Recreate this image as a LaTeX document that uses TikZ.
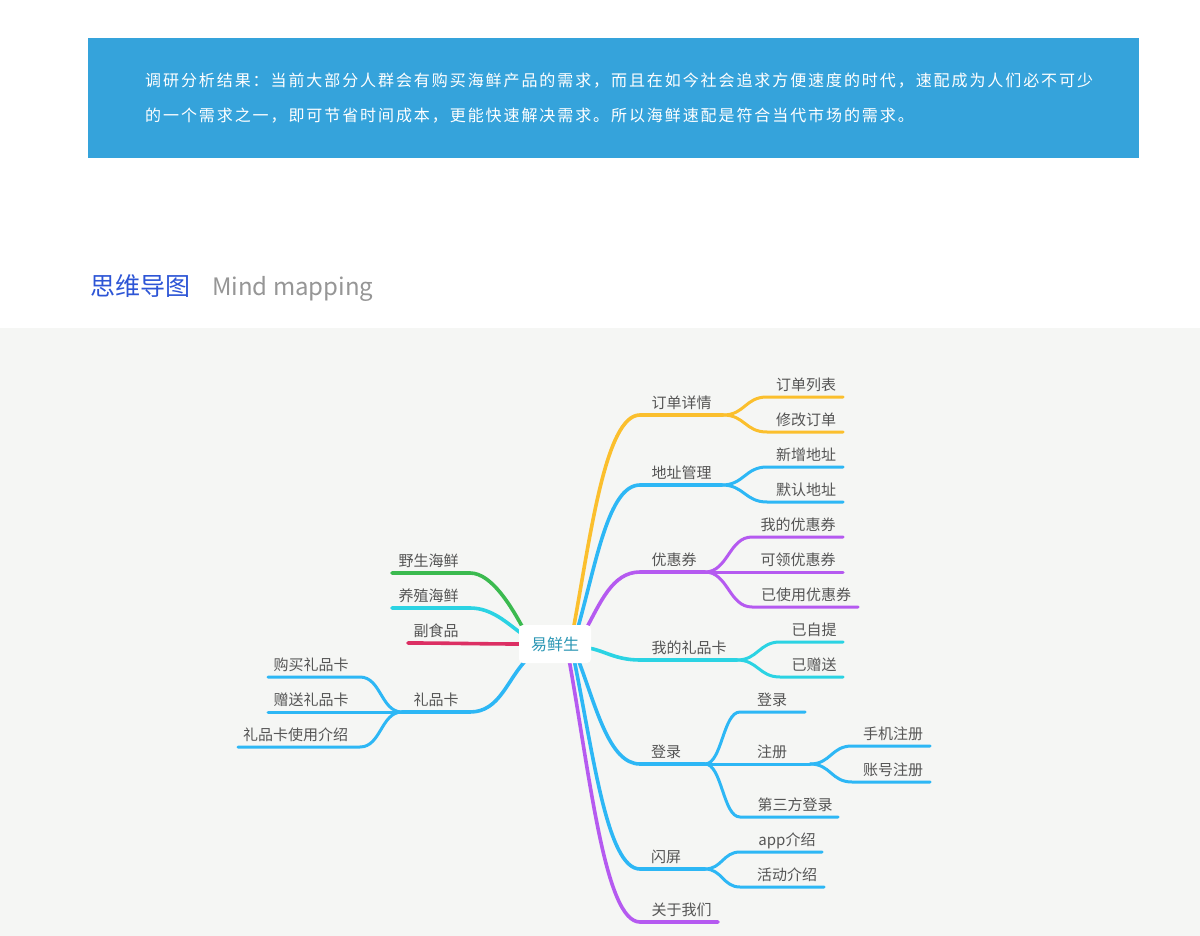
\documentclass[tikz,border=0pt]{standalone}
\usepackage{fontspec}
\setmainfont{Noto Sans CJK SC}
\newfontfamily\bannerfont[LetterSpace=12]{Noto Sans CJK SC}
\usetikzlibrary{calc}
\definecolor{bannerblue}{RGB}{53,163,219}
\definecolor{mapbg}{RGB}{245,246,244}
\definecolor{titleblue}{RGB}{45,85,214}
\definecolor{titlegray}{RGB}{150,150,150}
\definecolor{labelgray}{RGB}{85,85,85}
\definecolor{centerteal}{RGB}{42,150,180}
\definecolor{cyellow}{RGB}{251,191,45}
\definecolor{cblue}{RGB}{45,183,245}
\definecolor{cpurple}{RGB}{181,90,240}
\definecolor{ccyan}{RGB}{43,211,227}
\definecolor{cgreen}{RGB}{59,186,79}
\definecolor{cred}{RGB}{220,47,99}
\pgfdeclarelayer{back}
\pgfdeclarelayer{bg}
\pgfsetlayers{back,bg,main}
\begin{document}
\begin{tikzpicture}[x=1pt,y=-1pt,
  lbl/.style={anchor=base, inner sep=0pt, font=\fontsize{15}{15}\selectfont, text=labelgray},
  mainbr/.style={line width=3.6pt, line cap=round},
  subbr/.style={line width=3pt, line cap=round},
  bannertext/.style={anchor=west, inner sep=0pt, text=white, font=\bannerfont\fontsize{16}{16}\selectfont}]
\useasboundingbox (0,0) rectangle (1200,936);
\begin{pgfonlayer}{back}
\fill[white] (0,0) rectangle (1200,328);
\fill[mapbg] (0,328) rectangle (1200,936);
\end{pgfonlayer}

% banner
\node[fill=bannerblue, inner sep=0pt, minimum width=1051pt, minimum height=120pt, anchor=north west] (banner) at (88,38) {};
\node[bannertext] (line1) at (145,80.5) {调研分析结果：当前大部分人群会有购买海鲜产品的需求，而且在如今社会追求方便速度的时代，速配成为人们必不可少};
\node[bannertext] (line2) at (145,115.5) {的一个需求之一，即可节省时间成本，更能快速解决需求。所以海鲜速配是符合当代市场的需求。};

% title
\node[anchor=base west, inner sep=0pt, text=titleblue, font=\fontsize{25}{25}\selectfont] (title) at (90,295) {思维导图};
\node[anchor=base west, inner sep=0pt, text=titlegray, font=\fontsize{24}{24}\selectfont] (subtitle) at (212,295) {Mind mapping};

% center node
\node[fill=white, rounded corners=4pt, minimum width=72pt, minimum height=38pt, inner sep=0pt, text=centerteal, font=\fontsize{16}{16}\selectfont] (cn) at (555,644) {易鲜生};

% ---- underline coordinates ----
% right level 1
\coordinate (ddA) at (640,415); \coordinate (ddB) at (723,415);
\coordinate (dzA) at (640,485); \coordinate (dzB) at (722,485);
\coordinate (yhA) at (640,572); \coordinate (yhB) at (705,572);
\coordinate (lpA) at (640,660); \coordinate (lpB) at (737,660);
\coordinate (dlA) at (640,764); \coordinate (dlB) at (705,764);
\coordinate (spA) at (640,869); \coordinate (spB) at (705,869);
\coordinate (gyA) at (640,922); \coordinate (gyB) at (718,922);
% right level 2
\coordinate (lbA) at (767,397); \coordinate (lbB) at (843,397);
\coordinate (xgA) at (767,432); \coordinate (xgB) at (843,432);
\coordinate (xzA) at (767,467); \coordinate (xzB) at (843,467);
\coordinate (mrA) at (767,502); \coordinate (mrB) at (843,502);
\coordinate (wdA) at (752,537); \coordinate (wdB) at (843,537);
\coordinate (klB) at (843,572);
\coordinate (ysA) at (752,607); \coordinate (ysB) at (858,607);
\coordinate (ztA) at (780,642); \coordinate (ztB) at (843,642);
\coordinate (zsA) at (780,677); \coordinate (zsB) at (843,677);
\coordinate (loA) at (740,712); \coordinate (loB) at (805,712);
\coordinate (zcB) at (810,764);
\coordinate (sjA) at (852,746); \coordinate (sjB) at (930,746);
\coordinate (zhA) at (852,782); \coordinate (zhB) at (930,782);
\coordinate (dsA) at (740,817); \coordinate (dsB) at (838,817);
\coordinate (apA) at (740,852); \coordinate (apB) at (822,852);
\coordinate (hdA) at (740,887); \coordinate (hdB) at (824,887);
% left
\coordinate (ysxA) at (392,573); \coordinate (ysxB) at (470,573);
\coordinate (yzA) at (392,608); \coordinate (yzB) at (470,608);
\coordinate (fsA) at (408,643);
\coordinate (lkA) at (402,712); \coordinate (lkB) at (470,712);
\coordinate (gmA) at (268,677); \coordinate (gmB) at (360,677);
\coordinate (zlA) at (268,712);
\coordinate (jsA) at (238,747); \coordinate (jsB) at (360,747);

\begin{pgfonlayer}{bg}
% right main branches
\draw[mainbr, cyellow] ([xshift=18pt,yshift=-6pt]cn.north) .. controls +(17,-91) and +(-35,0) .. (ddA) -- (ddB);
\draw[mainbr, cblue] ([xshift=22pt,yshift=-6pt]cn.north) .. controls +(19,-66) and +(-32,0) .. (dzA) -- (dzB);
\draw[mainbr, cpurple] ([xshift=30pt,yshift=-6pt]cn.north) .. controls +(15,-27) and +(-28,0) .. (yhA) -- (yhB);
\draw[mainbr, ccyan] ([xshift=-3pt,yshift=-4pt]cn.east) .. controls +(15,2) and +(-25,0) .. (lpA) -- (lpB);
\draw[mainbr, cblue] ([xshift=23pt,yshift=4pt]cn.south) .. controls +(18,47) and +(-31,0) .. (dlA) -- (dlB);
\draw[mainbr, cblue] ([xshift=19pt,yshift=4pt]cn.south) .. controls +(19,93) and +(-33,0) .. (spA) -- (spB);
\draw[mainbr, cpurple] ([xshift=14pt,yshift=4pt]cn.south) .. controls +(21,117) and +(-35,0) .. (gyA) -- (gyB);
% right sub branches
\draw[subbr, cyellow] (ddB) .. controls +(22,0) and +(-22,0) .. (lbA) -- (lbB);
\draw[subbr, cyellow] (ddB) .. controls +(22,0) and +(-22,0) .. (xgA) -- (xgB);
\draw[subbr, cblue] (dzB) .. controls +(22,0) and +(-22,0) .. (xzA) -- (xzB);
\draw[subbr, cblue] (dzB) .. controls +(22,0) and +(-22,0) .. (mrA) -- (mrB);
\draw[subbr, cpurple] (yhB) .. controls +(23,0) and +(-23,0) .. (wdA) -- (wdB);
\draw[subbr, cpurple] (yhB) -- (klB);
\draw[subbr, cpurple] (yhB) .. controls +(23,0) and +(-23,0) .. (ysA) -- (ysB);
\draw[subbr, ccyan] (lpB) .. controls +(21,0) and +(-21,0) .. (ztA) -- (ztB);
\draw[subbr, ccyan] (lpB) .. controls +(21,0) and +(-21,0) .. (zsA) -- (zsB);
\draw[subbr, cblue] (dlB) .. controls +(17,0) and +(-17,0) .. (loA) -- (loB);
\draw[subbr, cblue] (dlB) -- (zcB);
\draw[subbr, cblue] (dlB) .. controls +(17,0) and +(-17,0) .. (dsA) -- (dsB);
\draw[subbr, cblue] (zcB) .. controls +(21,0) and +(-21,0) .. (sjA) -- (sjB);
\draw[subbr, cblue] (zcB) .. controls +(21,0) and +(-21,0) .. (zhA) -- (zhB);
\draw[subbr, cblue] (spB) .. controls +(17,0) and +(-17,0) .. (apA) -- (apB);
\draw[subbr, cblue] (spB) .. controls +(17,0) and +(-17,0) .. (hdA) -- (hdB);
% left main branches
\draw[mainbr, cgreen] ([xshift=-31pt,yshift=-5pt]cn.north) .. controls +(-12,-22) and +(22,0) .. (ysxB) -- (ysxA);
\draw[mainbr, ccyan] ([xshift=2pt,yshift=11pt]cn.west) .. controls +(-14,-10) and +(22,0) .. (yzB) -- (yzA);
\draw[mainbr, cred] ([xshift=3pt]cn.west) .. controls +(-40,0) and +(40,0) .. (fsA);
\draw[mainbr, cblue] ([xshift=-28pt,yshift=4pt]cn.south) .. controls +(-20,20) and +(30,0) .. (lkB) -- (lkA);
% left sub branches
\draw[subbr, cblue] (lkA) .. controls +(-21,0) and +(21,0) .. (gmB) -- (gmA);
\draw[subbr, cblue] (lkA) -- (zlA);
\draw[subbr, cblue] (lkA) .. controls +(-21,0) and +(21,0) .. (jsB) -- (jsA);
\end{pgfonlayer}

% labels right
\node[lbl] (dd) at (681.5,408) {订单详情};
\node[lbl] (dz) at (681.5,478) {地址管理};
\node[lbl] (yh) at (674,565) {优惠券};
\node[lbl] (lp) at (689,653) {我的礼品卡};
\node[lbl] (dl) at (666,757) {登录};
\node[lbl] (sp) at (666,862) {闪屏};
\node[lbl] (gy) at (681.5,915) {关于我们};
\node[lbl] (lb) at (806,390) {订单列表};
\node[lbl] (xg) at (806,425) {修改订单};
\node[lbl] (xz) at (806,460) {新增地址};
\node[lbl] (mr) at (806,495) {默认地址};
\node[lbl] (wd) at (798,530) {我的优惠券};
\node[lbl] (kl) at (798,565) {可领优惠券};
\node[lbl] (ys) at (806,600) {已使用优惠券};
\node[lbl] (zt) at (814,635) {已自提};
\node[lbl] (zs) at (814,670) {已赠送};
\node[lbl] (lo) at (772,705) {登录};
\node[lbl] (zc) at (772,757) {注册};
\node[lbl] (sj) at (893,739) {手机注册};
\node[lbl] (zh) at (893,775) {账号注册};
\node[lbl] (ds) at (795,810) {第三方登录};
\node[lbl] (ap) at (787,845) {app介绍};
\node[lbl] (hd) at (787,880) {活动介绍};
% labels left
\node[lbl] (ysx) at (428.5,566) {野生海鲜};
\node[lbl] (yz) at (428.5,601) {养殖海鲜};
\node[lbl] (fs) at (436,636) {副食品};
\node[lbl] (lk) at (436,705) {礼品卡};
\node[lbl] (gm) at (311,670) {购买礼品卡};
\node[lbl] (zl) at (311,705) {赠送礼品卡};
\node[lbl] (js) at (295.5,740) {礼品卡使用介绍};
\end{tikzpicture}
\end{document}
